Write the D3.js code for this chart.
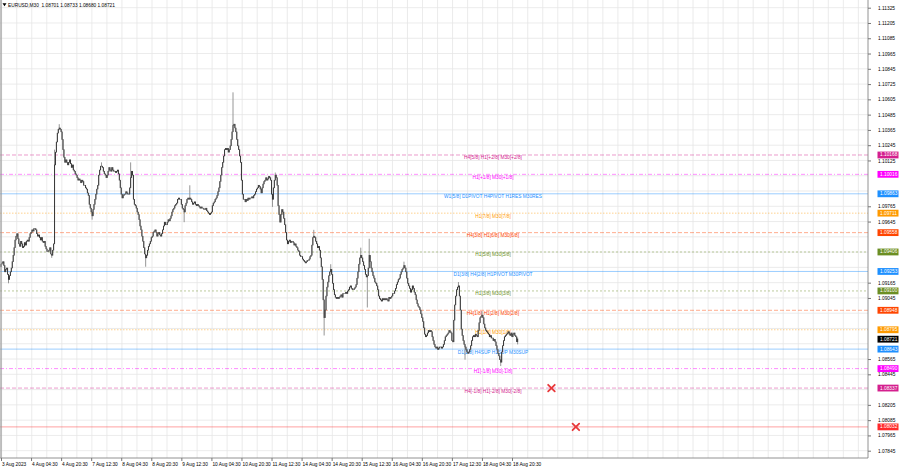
<!DOCTYPE html>
<html>
<head>
<meta charset="utf-8">
<script src="https://cdn.jsdelivr.net/npm/d3@7"></script>
<style>
  html, body { margin: 0; padding: 0; background: #fff; }
  svg { display: block; font-family: "Liberation Sans", Arial, sans-serif; }
</style>
</head>
<body>
<svg width="900" height="468"></svg>
<script>
// symbol and timeframe
const symbol = "EURUSD,M30";

// time labels, one every 32 bars (M30)
const timeLabels = ["3 Aug 2023", "4 Aug 04:30", "4 Aug 20:30", "7 Aug 12:30", "8 Aug 04:30", "8 Aug 20:30",
  "9 Aug 12:30", "10 Aug 04:30", "10 Aug 20:30", "11 Aug 12:30", "14 Aug 04:30", "14 Aug 20:30",
  "15 Aug 12:30", "16 Aug 04:30", "16 Aug 20:30", "17 Aug 12:30", "18 Aug 04:30", "18 Aug 20:30"];

// price scale tick labels
const priceTicks = [1.07845, 1.07965, 1.08085, 1.08205, 1.08325, 1.08445, 1.08565, 1.08685, 1.08805, 1.08925,
  1.09045, 1.09165, 1.09285, 1.09405, 1.09525, 1.09645, 1.09765, 1.09885, 1.10005, 1.10125,
  1.10245, 1.10365, 1.10485, 1.10605, 1.10725, 1.10845, 1.10965, 1.11085, 1.11205, 1.11325];

// close of every M30 bar
const firstOpen = 1.0929;
const closes = [
  1.0931,1.0932,1.0933,1.0930,1.0925,1.0927,1.0928,1.0923,1.0919,1.0922,
  1.0925,1.0928,1.0933,1.0938,1.0944,1.0950,1.0953,1.0955,1.0951,1.0947,
  1.0945,1.0949,1.0947,1.0944,1.0945,1.0948,1.0946,1.0949,1.0950,1.0949,
  1.0952,1.0955,1.0956,1.0958,1.0957,1.0959,1.0959,1.0958,1.0955,1.0953,
  1.0954,1.0952,1.0950,1.0952,1.0949,1.0948,1.0949,1.0945,1.0943,1.0941,
  1.0941,1.0942,1.0944,1.0939,1.0938,1.0942,1.0947,1.1009,1.1019,1.1027,
  1.1034,1.1037,1.1038,1.1037,1.1035,1.1029,1.1021,1.1015,1.1011,1.1013,
  1.1011,1.1009,1.1011,1.1013,1.1010,1.1007,1.1009,1.1005,1.1004,1.1002,
  1.1001,1.0999,1.0997,1.0998,1.0997,1.0995,1.0997,1.0996,1.0993,1.0993,
  1.0991,1.0990,1.0987,1.0985,1.0978,1.0975,1.0972,1.0969,1.0974,1.0978,
  1.0982,1.0986,1.0990,1.0993,1.1001,1.1005,1.1008,1.1008,1.1007,1.1004,
  1.1002,1.1001,1.0999,1.1001,1.1004,1.1007,1.1005,1.1004,1.1007,1.1005,
  1.1004,1.1004,1.1003,1.1004,1.1005,1.1002,1.0997,1.0991,1.0986,1.0983,
  1.0985,1.0986,1.0986,1.0988,1.0987,1.0986,1.0986,1.0991,1.0999,1.1004,
  1.1001,1.0982,1.0978,1.0977,1.0975,1.0972,1.0970,1.0966,1.0961,1.0958,
  1.0953,1.0949,1.0944,1.0939,1.0936,1.0938,1.0942,1.0945,1.0947,1.0949,
  1.0952,1.0953,1.0956,1.0957,1.0958,1.0956,1.0953,1.0955,1.0956,1.0954,
  1.0953,1.0955,1.0958,1.0961,1.0964,1.0962,1.0962,1.0964,1.0966,1.0965,
  1.0967,1.0969,1.0972,1.0974,1.0975,1.0977,1.0978,1.0979,1.0982,1.0983,
  1.0982,1.0982,1.0978,1.0975,1.0974,1.0972,1.0977,1.0979,1.0982,1.0983,
  1.0982,1.0983,1.0982,1.0980,1.0978,1.0979,1.0980,1.0978,1.0977,1.0978,
  1.0977,1.0976,1.0975,1.0976,1.0975,1.0975,1.0974,1.0974,1.0975,1.0973,
  1.0972,1.0971,1.0970,1.0971,1.0972,1.0977,1.0979,1.0980,1.0982,1.0983,
  1.0985,1.0988,1.0991,1.0996,1.1001,1.1007,1.1011,1.1016,1.1021,1.1022,
  1.1021,1.1022,1.1019,1.1021,1.1024,1.1029,1.1035,1.1040,1.1041,1.1038,
  1.1035,1.1029,1.1024,1.1021,1.1016,1.1011,1.0997,1.0986,1.0982,1.0982,
  1.0980,1.0982,1.0981,1.0983,1.0982,1.0983,1.0983,1.0984,1.0983,1.0985,
  1.0986,1.0988,1.0990,1.0991,1.0993,1.0992,1.0990,1.0987,1.0991,1.0994,
  1.0996,1.0997,1.0999,1.0997,1.0998,1.1000,1.0999,1.0997,1.0986,1.0982,
  1.0991,1.0997,1.1001,1.0999,1.0993,1.0977,1.0970,1.0964,1.0970,1.0974,
  1.0972,1.0967,1.0962,1.0956,1.0950,1.0947,1.0949,1.0950,1.0948,1.0949,
  1.0949,1.0948,1.0946,1.0947,1.0945,1.0944,1.0942,1.0941,1.0938,1.0937,
  1.0937,1.0935,1.0934,1.0933,1.0932,1.0933,1.0934,1.0934,1.0935,1.0937,
  1.0938,1.0946,1.0952,1.0953,1.0952,1.0949,1.0947,1.0944,1.0945,1.0942,
  1.0936,1.0929,1.0919,1.0903,1.0889,1.0895,1.0906,1.0913,1.0917,1.0922,
  1.0925,1.0927,1.0923,1.0916,1.0911,1.0907,1.0905,1.0904,1.0905,1.0904,
  1.0905,1.0906,1.0907,1.0905,1.0908,1.0908,1.0908,1.0909,1.0908,1.0910,
  1.0911,1.0913,1.0914,1.0912,1.0911,1.0911,1.0912,1.0913,1.0915,1.0920,
  1.0925,1.0931,1.0936,1.0938,1.0936,1.0933,1.0930,1.0927,1.0923,1.0921,
  1.0922,1.0928,1.0938,1.0933,1.0928,1.0925,1.0922,1.0920,1.0917,1.0916,
  1.0914,1.0911,1.0906,1.0904,1.0903,1.0902,1.0904,1.0903,1.0904,1.0903,
  1.0904,1.0903,1.0902,1.0905,1.0904,1.0905,1.0906,1.0908,1.0908,1.0910,
  1.0912,1.0915,1.0917,1.0919,1.0920,1.0923,1.0925,1.0927,1.0928,1.0930,
  1.0928,1.0925,1.0920,1.0916,1.0914,1.0912,1.0909,1.0911,1.0914,1.0912,
  1.0909,1.0907,1.0903,1.0900,1.0898,1.0897,1.0895,1.0892,1.0889,1.0886,
  1.0881,1.0876,1.0874,1.0875,1.0877,1.0879,1.0878,1.0879,1.0878,1.0874,
  1.0871,1.0868,1.0866,1.0865,1.0866,1.0864,1.0865,1.0866,1.0866,1.0865,
  1.0866,1.0868,1.0871,1.0874,1.0875,1.0876,1.0877,1.0879,1.0878,1.0877,
  1.0871,1.0870,1.0887,1.0899,1.0906,1.0911,1.0913,1.0914,1.0906,1.0895,
  1.0880,1.0875,1.0871,1.0868,1.0866,1.0864,1.0862,1.0861,1.0862,1.0864,
  1.0867,1.0871,1.0874,1.0875,1.0874,1.0876,1.0875,1.0874,1.0879,1.0885,
  1.0889,1.0890,1.0891,1.0889,1.0884,1.0881,1.0879,1.0878,1.0877,1.0876,
  1.0874,1.0875,1.0873,1.0873,1.0871,1.0872,1.0870,1.0867,1.0864,1.0861,
  1.0859,1.0856,1.0854,1.0862,1.0867,1.0871,1.0874,1.0875,1.0876,1.0877,
  1.0878,1.0876,1.0875,1.0877,1.0874,1.0876,1.0877,1.0875,1.0874,1.08701,1.08721
];

// long wicks [bar, price]
const highSpikes = [[57,1.1021],[62,1.1041],[107,1.1011],[138,1.1011],[201,1.0993],[247,1.1066],[292,1.1003],
  [333,1.0958],[351,1.0931],[383,1.0944],[392,1.0951],[429,1.0933],[487,1.0917],[512,1.0894],[550,1.08733]];
const lowSpikes = [[8,1.0916],[54,1.0936],[97,1.0966],[154,1.0929],[195,1.0964],[289,1.0976],[344,1.0875],
  [390,1.0897],[494,1.0856],[532,1.0851],[550,1.08680]];

// murrey math levels
const levelPrices = [1.10168, 1.10016, 1.09863, 1.09711, 1.09558, 1.09406, 1.09253, 1.09100,
  1.08948, 1.08795, 1.08643, 1.08490, 1.08337, 1.08032];
const levelNames = ["H4[5/8] H1[+2/8] M30[+2/8]", "H1[+1/8] M30[+1/8]", "W1[5/8] D1PIVOT H4PIVOT H1RES M30RES",
  "H1[7/8] M30[7/8]", "H4[3/8] H1[6/8] M30[6/8]", "H1[5/8] M30[5/8]", "D1[3/8] H4[2/8] H1PIVOT M30PIVOT",
  "H1[3/8] M30[3/8]", "H4[1/8] H1[2/8] M30[2/8]", "H1[1/8] M30[1/8]", "D1[2/8] H4SUP H1SUP M30SUP",
  "H1[-1/8] M30[-1/8]", "H4[-1/8] H1[-2/8] M30[-2/8]", ""];
const levelKinds = ["extreme", "outer", "pivot", "minor", "major", "inner", "pivot", "inner",
  "major", "minor", "pivot", "outer", "extreme", "target"];

// target crosses [bar, price]
const targets = [[586, 1.08337], [612, 1.08032]];

// line styles per level kind
const kindStyle = {
  extreme: { color: "#D4208E", dash: "4,2" },
  outer:   { color: "#FF00FF", dash: "4,2,1,2" },
  pivot:   { color: "#1E90FF", dash: null },
  minor:   { color: "#FF9A00", dash: "1.5,1.5" },
  major:   { color: "#FF4500", dash: "4,2" },
  inner:   { color: "#6B8E23", dash: "2,2" },
  target:  { color: "#FF2A2A", dash: null }
};

const svg = d3.select("svg");
const plotRight = 868, plotBottom = 458, fs = 4.8;

const x = d3.scaleLinear().domain([0, 923]).range([1, plotRight]);
const y = d3.scaleLinear().domain([1.07845, 1.11325]).range([450.7, 7.7]);

// OHLC from closes
const bars = closes.map((c, i) => {
  const o = i === 0 ? firstOpen : closes[i - 1];
  return { i, o, c, h: Math.max(o, c), l: Math.min(o, c) };
});
highSpikes.forEach(([i, p]) => bars[i].h = Math.max(bars[i].h, p));
lowSpikes.forEach(([i, p]) => bars[i].l = Math.min(bars[i].l, p));

// grid
const grid = svg.append("g").attr("stroke", "#e6e6e6").attr("stroke-width", 0.8);
grid.selectAll("line.h").data(priceTicks).enter().append("line")
  .attr("x1", 0).attr("x2", plotRight).attr("y1", d => y(d)).attr("y2", d => y(d));
grid.selectAll("line.v").data(d3.range(0, 924, 16)).enter().append("line")
  .attr("x1", d => x(d) + 0.7).attr("x2", d => x(d) + 0.7).attr("y1", 0).attr("y2", plotBottom);

// level lines
const levels = levelPrices.map((p, k) => ({ p, name: levelNames[k], st: kindStyle[levelKinds[k]] }));
svg.append("g").attr("opacity", 0.55).selectAll("line").data(levels).enter().append("line")
  .attr("x1", 0).attr("x2", plotRight)
  .attr("y1", d => y(d.p)).attr("y2", d => y(d.p))
  .attr("stroke", d => d.st.color).attr("stroke-width", 0.8)
  .attr("stroke-dasharray", d => d.st.dash);

// level names
svg.append("g").selectAll("text").data(levels).enter().append("text")
  .attr("x", 493).attr("y", d => y(d.p) + 3)
  .attr("text-anchor", "middle").attr("dominant-baseline", "central")
  .attr("font-size", fs).attr("fill", d => d.st.color)
  .text(d => d.name);

// candles
const cg = svg.append("g");
cg.selectAll("line.w").data(bars).enter().append("line")
  .attr("x1", d => x(d.i)).attr("x2", d => x(d.i))
  .attr("y1", d => y(d.h)).attr("y2", d => y(d.l))
  .attr("stroke", "#8a8a8a").attr("stroke-width", 0.9);
cg.selectAll("line.b").data(bars).enter().append("line")
  .attr("x1", d => x(d.i)).attr("x2", d => x(d.i))
  .attr("y1", d => y(Math.max(d.o, d.c)) - 0.3).attr("y2", d => y(Math.min(d.o, d.c)) + 0.3)
  .attr("stroke", "#262626").attr("stroke-width", 0.85);

// target crosses
const tg = svg.append("g").attr("stroke", "#E8383A").attr("stroke-width", 1.8).attr("stroke-linecap", "round");
targets.forEach(([i, p]) => {
  const cx = x(i), cy = y(p), r = 3.3;
  tg.append("line").attr("x1", cx - r).attr("y1", cy - r).attr("x2", cx + r).attr("y2", cy + r);
  tg.append("line").attr("x1", cx - r).attr("y1", cy + r).attr("x2", cx + r).attr("y2", cy - r);
});

// price labels on the scale (levels + last close)
const last = bars[bars.length - 1];
const tags = levels.map(d => ({ p: d.p, color: d.st.color }))
  .concat([{ p: last.c, color: "#000" }]);

// price axis, ticks hidden behind a tag are dropped
const shownTicks = priceTicks.filter(t => tags.every(g => Math.abs(y(t) - y(g.p)) > 5));
const yAxis = d3.axisRight(y).tickValues(shownTicks).tickFormat(d3.format(".5f"))
  .tickSize(3).tickPadding(9).tickSizeOuter(0);
const ya = svg.append("g").attr("transform", `translate(${plotRight},0)`).call(yAxis);
ya.select(".domain").remove();
ya.selectAll("line").attr("stroke", "#777");
ya.selectAll("text").attr("font-size", fs).attr("fill", "#000").attr("x", 10);

// time axis
const xAxis = d3.axisBottom(x).tickValues(timeLabels.map((d, k) => k * 32))
  .tickFormat((d, k) => timeLabels[k]).tickSize(3).tickPadding(1.5).tickSizeOuter(0);
const xa = svg.append("g").attr("transform", `translate(0,${plotBottom})`).call(xAxis);
xa.select(".domain").remove();
xa.selectAll("line").attr("stroke", "#777");
xa.selectAll("text").attr("font-size", fs).attr("fill", "#000").attr("text-anchor", "start").attr("dx", 0.5);

// frame lines
svg.append("line").attr("x1", plotRight).attr("x2", plotRight).attr("y1", 0).attr("y2", plotBottom).attr("stroke", "#777").attr("stroke-width", 0.8);
svg.append("line").attr("x1", 0).attr("x2", plotRight).attr("y1", plotBottom).attr("y2", plotBottom).attr("stroke", "#777").attr("stroke-width", 0.8);
svg.append("line").attr("x1", 1).attr("x2", 1).attr("y1", 0).attr("y2", plotBottom).attr("stroke", "#999").attr("stroke-width", 1.2);

const tagG = svg.append("g").selectAll("g").data(tags).enter().append("g");
tagG.append("rect").attr("x", 877.5).attr("y", d => y(d.p) - 3.4)
  .attr("width", 21).attr("height", 6.8).attr("fill", d => d.color);
tagG.append("text").attr("x", 880).attr("y", d => y(d.p))
  .attr("dominant-baseline", "central").attr("font-size", fs).attr("fill", "#fff")
  .text(d => d3.format(".5f")(d.p));

// title
const f5 = d3.format(".5f");
svg.append("path").attr("d", "M2.5,3.2 L6.5,3.2 L4.5,6.2 Z").attr("fill", "#000");
svg.append("text").attr("x", 8).attr("y", 5).attr("dominant-baseline", "central")
  .attr("font-size", fs).attr("fill", "#000").attr("xml:space", "preserve")
  .text(`${symbol}  ${f5(last.o)} ${f5(last.h)} ${f5(last.l)} ${f5(last.c)}`);
</script>
</body>
</html>
